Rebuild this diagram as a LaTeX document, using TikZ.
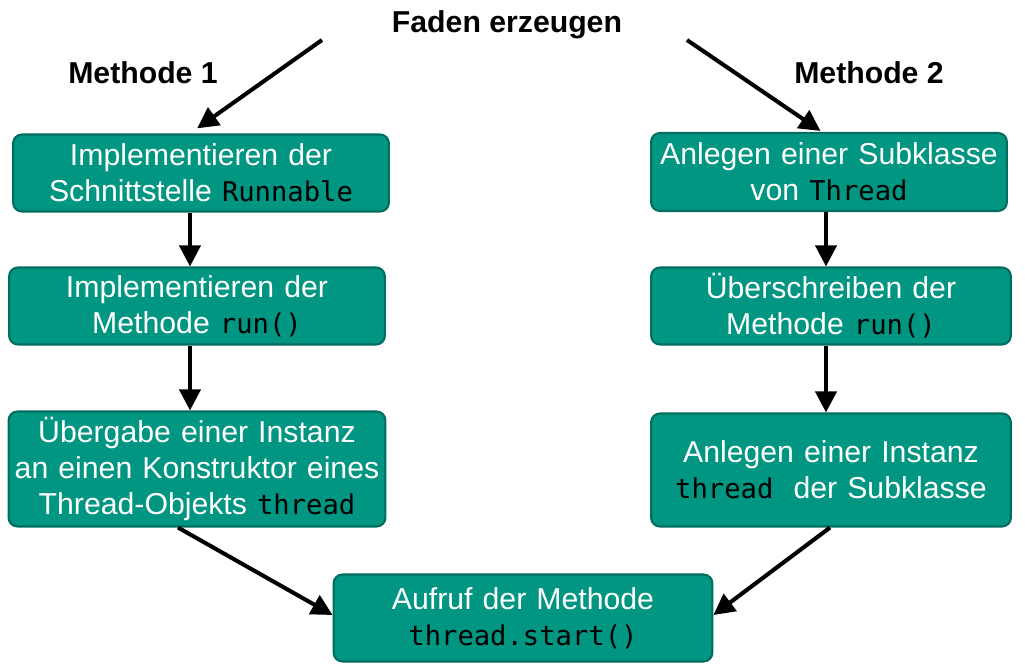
\documentclass[tikz,border=0pt]{standalone}
\usepackage{fontspec}
\setmainfont{Liberation Sans}
\setmonofont[Scale=0.9]{DejaVu Sans Mono}
\usetikzlibrary{arrows.meta}
\definecolor{tealfill}{HTML}{009682}
\definecolor{tealline}{HTML}{006E5E}
\tikzstyle{step box} = [draw=tealline, line width=1.2pt, fill=tealfill, rounded corners=5pt, text=white, align=center, font={\fontsize{17.2}{20.4}\selectfont}]
\tikzstyle{head} = [font={\fontsize{17.2}{20.4}\selectfont\bfseries}]
\tikzstyle{flow} = [line width=2.3pt, -{Triangle[length=12pt,width=12pt]}]
\newcommand{\code}[1]{\textcolor{black}{\texttt{#1}}}

\begin{document}
\begin{tikzpicture}[x=0.02cm,y=-0.02cm]
        \useasboundingbox (0,0) rectangle (1025,672);
        \node[head](title) at (507,25){Faden erzeugen};
        \node[head](m1) at (143,73){Methode 1};
        \node[head](m2) at (869,73){Methode 2};
        \node[step box,text width=364*0.02cm,minimum height=77*0.02cm](l1) at (201,173){Implementieren der\\Schnittstelle \code{Runnable}};
        \node[step box,text width=364*0.02cm,minimum height=77*0.02cm](l2) at (197,306){Implementieren der\\Methode \code{run()}};
        \node[step box,text width=365*0.02cm,minimum height=115*0.02cm](l3) at (197,469){Übergabe einer Instanz\\an einen Konstruktor eines\\Thread-Objekts \code{thread}};
        \node[step box,text width=344*0.02cm,minimum height=78*0.02cm](r1) at (829,172){Anlegen einer Subklasse\\von \code{Thread}};
        \node[step box,text width=348*0.02cm,minimum height=77*0.02cm](r2) at (831,306){Überschreiben der\\Methode \code{run()}};
        \node[step box,text width=348*0.02cm,minimum height=113*0.02cm](r3) at (831,470){Anlegen einer Instanz\\\code{thread}\ \ der Subklasse};
        \node[step box,text width=367*0.02cm,minimum height=87*0.02cm](call) at (523,618){Aufruf der Methode\\\code{thread.start()}};
        \coordinate(s1) at (322,40);
        \coordinate(s2) at (687,40);
        \draw[flow,shorten >=5pt](s1)--(l1.north -| 190,0);
        \draw[flow,shorten >=1pt](s2)--(r1.north -| 822,0);
        \draw[flow](l1.south -| 190,0)--(l2.north -| 190,0);
        \draw[flow](l2.south -| 190,0)--(l3.north -| 190,0);
        \draw[flow](r1.south -| 826,0)--(r2.north -| 826,0);
        \draw[flow](r2.south -| 826,0)--(r3.north -| 826,0);
        \draw[flow](l3.south -| 178,0)--(call.west |- 0,615);
        \draw[flow](r3.south -| 830,0)--(call.east |- 0,615);
      \end{tikzpicture}
\end{document}
